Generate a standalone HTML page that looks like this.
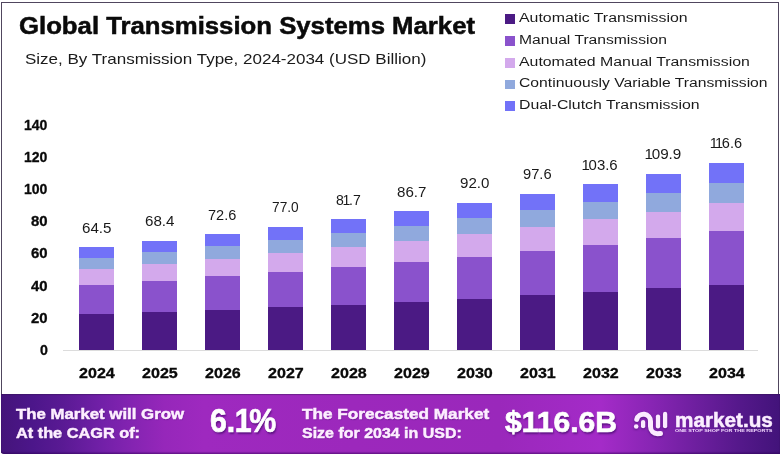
<!DOCTYPE html>
<html><head><meta charset="utf-8"><style>
html,body{margin:0;padding:0;background:#fff;}
body{width:780px;height:457px;position:relative;overflow:hidden;font-family:"Liberation Sans",sans-serif;}
.frame{position:absolute;left:1px;top:2px;width:776px;height:449px;border:1px solid #50465e;}
.t{position:absolute;white-space:nowrap;transform-origin:0 0;}
#txt{position:absolute;left:0;top:0;width:780px;height:457px;will-change:transform;}
.n1{margin:0 -1.3px;}
.n1b{margin:0 -2.6px 0 -0.6px;}
.seg{position:absolute;width:35px;}
.sq{position:absolute;left:505.2px;width:9.5px;height:9.5px;}
.axis{position:absolute;left:63px;top:350px;width:695px;height:1px;background:#dcdcdc;}
.banner{position:absolute;left:1px;top:393.5px;width:779px;height:60px;border-radius:0 0 0 3px;
background:linear-gradient(90deg,#44147a 0%,#4c168a 4%,#5a1a94 8%,#7220a8 13%,#8524b2 17%,#9627ba 21%,#9e29bf 26%,#9c28bc 45%,#9a28bb 64%,#a42bc8 77%,#8825b4 83.5%,#6a1e9c 90%,#54188a 95%,#42137a 100%);
box-shadow:inset 0 -1.5px 1px rgba(40,0,80,.45), inset 0 1px 1px rgba(50,20,80,.45);}
svg.logo{position:absolute;left:625px;top:400px;filter:drop-shadow(0.8px 1px 1px rgba(45,0,85,.55));}
</style></head><body>
<div class="frame"></div>
<div class="sq" style="top:14.4px;background:#4b1a84"></div>
<div class="sq" style="top:36.3px;background:#8a52cc"></div>
<div class="sq" style="top:58.0px;background:#d3a9ec"></div>
<div class="sq" style="top:79.6px;background:#90a9dd"></div>
<div class="sq" style="top:101.3px;background:#7272f8"></div>

<div class="axis"></div>
<div class="seg" style="left:79px;top:313.88px;height:36.42px;background:#4b1a84"></div>
<div class="seg" style="left:79px;top:284.26px;height:29.92px;background:#8a52cc"></div>
<div class="seg" style="left:79px;top:268.58px;height:15.99px;background:#d3a9ec"></div>
<div class="seg" style="left:79px;top:257.43px;height:11.45px;background:#90a9dd"></div>
<div class="seg" style="left:79px;top:246.80px;height:10.93px;background:#7272f8"></div>
<div class="seg" style="left:142px;top:311.70px;height:38.60px;background:#4b1a84"></div>
<div class="seg" style="left:142px;top:280.29px;height:31.71px;background:#8a52cc"></div>
<div class="seg" style="left:142px;top:263.65px;height:16.93px;background:#d3a9ec"></div>
<div class="seg" style="left:142px;top:251.83px;height:12.12px;background:#90a9dd"></div>
<div class="seg" style="left:142px;top:240.56px;height:11.57px;background:#7272f8"></div>
<div class="seg" style="left:205px;top:309.34px;height:40.96px;background:#4b1a84"></div>
<div class="seg" style="left:205px;top:276.01px;height:33.64px;background:#8a52cc"></div>
<div class="seg" style="left:205px;top:258.35px;height:17.96px;background:#d3a9ec"></div>
<div class="seg" style="left:205px;top:245.80px;height:12.85px;background:#90a9dd"></div>
<div class="seg" style="left:205px;top:233.84px;height:12.26px;background:#7272f8"></div>
<div class="seg" style="left:268px;top:306.88px;height:43.42px;background:#4b1a84"></div>
<div class="seg" style="left:268px;top:271.52px;height:35.66px;background:#8a52cc"></div>
<div class="seg" style="left:268px;top:252.80px;height:19.03px;background:#d3a9ec"></div>
<div class="seg" style="left:268px;top:239.49px;height:13.61px;background:#90a9dd"></div>
<div class="seg" style="left:268px;top:226.80px;height:12.99px;background:#7272f8"></div>
<div class="seg" style="left:331px;top:304.25px;height:46.05px;background:#4b1a84"></div>
<div class="seg" style="left:331px;top:266.73px;height:37.82px;background:#8a52cc"></div>
<div class="seg" style="left:331px;top:246.86px;height:20.17px;background:#d3a9ec"></div>
<div class="seg" style="left:331px;top:232.74px;height:14.42px;background:#90a9dd"></div>
<div class="seg" style="left:331px;top:219.28px;height:13.76px;background:#7272f8"></div>
<div class="seg" style="left:394px;top:301.45px;height:48.85px;background:#4b1a84"></div>
<div class="seg" style="left:394px;top:261.64px;height:40.11px;background:#8a52cc"></div>
<div class="seg" style="left:394px;top:240.55px;height:21.39px;background:#d3a9ec"></div>
<div class="seg" style="left:394px;top:225.57px;height:15.28px;background:#90a9dd"></div>
<div class="seg" style="left:394px;top:211.28px;height:14.59px;background:#7272f8"></div>
<div class="seg" style="left:457px;top:298.48px;height:51.82px;background:#4b1a84"></div>
<div class="seg" style="left:457px;top:256.23px;height:42.55px;background:#8a52cc"></div>
<div class="seg" style="left:457px;top:233.86px;height:22.67px;background:#d3a9ec"></div>
<div class="seg" style="left:457px;top:217.96px;height:16.20px;background:#90a9dd"></div>
<div class="seg" style="left:457px;top:202.80px;height:15.46px;background:#7272f8"></div>
<div class="seg" style="left:520px;top:294.34px;height:55.96px;background:#4b1a84"></div>
<div class="seg" style="left:520px;top:250.53px;height:44.12px;background:#8a52cc"></div>
<div class="seg" style="left:520px;top:226.79px;height:24.04px;background:#d3a9ec"></div>
<div class="seg" style="left:520px;top:209.92px;height:17.17px;background:#90a9dd"></div>
<div class="seg" style="left:520px;top:193.84px;height:16.38px;background:#7272f8"></div>
<div class="seg" style="left:583px;top:291.98px;height:58.32px;background:#4b1a84"></div>
<div class="seg" style="left:583px;top:244.41px;height:47.87px;background:#8a52cc"></div>
<div class="seg" style="left:583px;top:219.22px;height:25.50px;background:#d3a9ec"></div>
<div class="seg" style="left:583px;top:201.31px;height:18.20px;background:#90a9dd"></div>
<div class="seg" style="left:583px;top:184.24px;height:17.37px;background:#7272f8"></div>
<div class="seg" style="left:646px;top:287.46px;height:62.84px;background:#4b1a84"></div>
<div class="seg" style="left:646px;top:237.99px;height:49.77px;background:#8a52cc"></div>
<div class="seg" style="left:646px;top:211.26px;height:27.03px;background:#d3a9ec"></div>
<div class="seg" style="left:646px;top:192.27px;height:19.29px;background:#90a9dd"></div>
<div class="seg" style="left:646px;top:174.16px;height:18.41px;background:#7272f8"></div>
<div class="seg" style="left:709px;top:284.53px;height:65.77px;background:#4b1a84"></div>
<div class="seg" style="left:709px;top:230.84px;height:53.99px;background:#8a52cc"></div>
<div class="seg" style="left:709px;top:202.41px;height:28.73px;background:#d3a9ec"></div>
<div class="seg" style="left:709px;top:182.21px;height:20.50px;background:#90a9dd"></div>
<div class="seg" style="left:709px;top:162.94px;height:19.57px;background:#7272f8"></div>

<div class="banner"></div>
<svg class="logo" width="60" height="45" viewBox="625 400 60 45" fill="none" stroke="#fbeaff" stroke-width="4.3" stroke-linecap="round" stroke-linejoin="round">
<path stroke-width="5" d="M636.75 419.4 A7 7 0 0 1 650.5 421.3 L650.5 426.6 C650.5 431 653.8 433.7 657.4 433.7 L660.5 433.5"/>
<path d="M643.1 422.1 L643.1 426.2"/>
<path d="M658 416.6 L658 426.4"/>
<path d="M665.1 414 L665.1 426.2"/>
<circle cx="636.2" cy="426.5" r="2.3" fill="#fbeaff" stroke="none"/>
</svg>
<div id="txt">
<div class="t" id="title" style="left:19px;top:10.96px;font-size:23.5px;line-height:31px;font-weight:bold;color:#0a0a0a;transform:scaleX(1.0945);-webkit-text-stroke:0.5px #0a0a0a;">Global Transmission Systems Market</div>
<div class="t" id="sub" style="left:25px;top:48.80px;font-size:15px;line-height:20px;color:#1a1a1a;transform:scaleX(1.1337);">Size, By Transmission Type, 2024-2034 (USD Billion)</div>
<div class="t" id="l0" style="left:519.4px;top:9.05px;font-size:13.7px;line-height:18px;color:#1a1a1a;transform:scaleX(1.1604);">Automatic Transmission</div>
<div class="t" id="l1" style="left:519.4px;top:30.95px;font-size:13.7px;line-height:18px;color:#1a1a1a;transform:scaleX(1.1436);">Manual Transmission</div>
<div class="t" id="l2" style="left:519.4px;top:52.65px;font-size:13.7px;line-height:18px;color:#1a1a1a;transform:scaleX(1.1579);">Automated Manual Transmission</div>
<div class="t" id="l3" style="left:519.4px;top:74.25px;font-size:13.7px;line-height:18px;color:#1a1a1a;transform:scaleX(1.1479);">Continuously Variable Transmission</div>
<div class="t" id="l4" style="left:519.4px;top:95.95px;font-size:13.7px;line-height:18px;color:#1a1a1a;transform:scaleX(1.1582);">Dual-Clutch Transmission</div>
<div class="t" id="b1a" style="left:16px;top:404.33px;font-size:15.5px;line-height:20px;font-weight:bold;color:#fdeeff;transform:scaleX(1.0837);-webkit-text-stroke:0.5px #fdeeff;text-shadow:0.5px 1px 1px rgba(45,0,85,.4);">The Market will Grow</div>
<div class="t" id="b1b" style="left:16px;top:423.43px;font-size:15.5px;line-height:20px;font-weight:bold;color:#fdeeff;transform:scaleX(1.0513);-webkit-text-stroke:0.5px #fdeeff;text-shadow:0.5px 1px 1px rgba(45,0,85,.4);">At the CAGR of:</div>
<div class="t" id="b2" style="left:209.8px;top:399.37px;font-size:33px;line-height:43px;font-weight:bold;color:#fff;transform:scaleX(0.9188);-webkit-text-stroke:0.7px #fff;text-shadow:1px 1.5px 2px rgba(40,0,80,.55);">6.<span class="n1b">1</span>%</div>
<div class="t" id="b3a" style="left:302px;top:404.33px;font-size:15.5px;line-height:20px;font-weight:bold;color:#fdeeff;transform:scaleX(1.1087);-webkit-text-stroke:0.5px #fdeeff;text-shadow:0.5px 1px 1px rgba(45,0,85,.4);">The Forecasted Market</div>
<div class="t" id="b3b" style="left:302px;top:423.43px;font-size:15.5px;line-height:20px;font-weight:bold;color:#fdeeff;transform:scaleX(1.0307);-webkit-text-stroke:0.5px #fdeeff;text-shadow:0.5px 1px 1px rgba(45,0,85,.4);">Size for 2034 in USD:</div>
<div class="t" id="b4" style="left:505.4px;top:403.45px;font-size:29px;line-height:38px;font-weight:bold;color:#fff;transform:scaleX(1.0357);-webkit-text-stroke:0.7px #fff;text-shadow:1px 1.5px 2px rgba(40,0,80,.55);">$116.6B</div>
<div class="t" id="b5" style="left:675px;top:407.17px;font-size:20px;line-height:26px;font-weight:bold;color:#fbeeff;transform:scaleX(1.0349);-webkit-text-stroke:0.5px #fbeeff;">market.us</div>
<div class="t" id="b6" style="left:675.4px;top:427.51px;font-size:4.3px;line-height:6px;font-weight:bold;color:#f3d8ff;transform:scaleX(1.2591);">ONE STOP SHOP FOR THE REPORTS</div>
<div class="t" id="v0" style="left:81.75px;top:218.85px;font-size:14px;line-height:18px;color:#1a1a1a;transform:scaleX(1.0826);">64.5</div>
<div class="t" id="y0" style="left:78.6px;top:363.30px;font-size:15px;line-height:20px;font-weight:bold;color:#0a0a0a;transform:scaleX(1.0727);-webkit-text-stroke:0.3px #0a0a0a;">2024</div>
<div class="t" id="v1" style="left:144.75px;top:212.21px;font-size:14px;line-height:18px;color:#1a1a1a;transform:scaleX(1.0826);">68.4</div>
<div class="t" id="y1" style="left:141.6px;top:363.30px;font-size:15px;line-height:20px;font-weight:bold;color:#0a0a0a;transform:scaleX(1.0727);-webkit-text-stroke:0.3px #0a0a0a;">2025</div>
<div class="t" id="v2" style="left:208.35px;top:205.69px;font-size:14px;line-height:18px;color:#1a1a1a;transform:scaleX(1.0385);">72.6</div>
<div class="t" id="y2" style="left:204.6px;top:363.30px;font-size:15px;line-height:20px;font-weight:bold;color:#0a0a0a;transform:scaleX(1.0727);-webkit-text-stroke:0.3px #0a0a0a;">2026</div>
<div class="t" id="v3" style="left:272.15px;top:197.95px;font-size:14px;line-height:18px;color:#1a1a1a;transform:scaleX(0.9798);">77.0</div>
<div class="t" id="y3" style="left:267.6px;top:363.30px;font-size:15px;line-height:20px;font-weight:bold;color:#0a0a0a;transform:scaleX(1.0727);-webkit-text-stroke:0.3px #0a0a0a;">2027</div>
<div class="t" id="v4" style="left:336.1px;top:190.73px;font-size:14px;line-height:18px;color:#1a1a1a;transform:scaleX(1.0046);">8<span class="n1">1</span>.7</div>
<div class="t" id="y4" style="left:330.6px;top:363.30px;font-size:15px;line-height:20px;font-weight:bold;color:#0a0a0a;transform:scaleX(1.0727);-webkit-text-stroke:0.3px #0a0a0a;">2028</div>
<div class="t" id="v5" style="left:396.8px;top:183.03px;font-size:14px;line-height:18px;color:#1a1a1a;transform:scaleX(1.0789);">86.7</div>
<div class="t" id="y5" style="left:393.6px;top:363.30px;font-size:15px;line-height:20px;font-weight:bold;color:#0a0a0a;transform:scaleX(1.0727);-webkit-text-stroke:0.3px #0a0a0a;">2029</div>
<div class="t" id="v6" style="left:459.8px;top:173.85px;font-size:14px;line-height:18px;color:#1a1a1a;transform:scaleX(1.0789);">92.0</div>
<div class="t" id="y6" style="left:456.6px;top:363.30px;font-size:15px;line-height:20px;font-weight:bold;color:#0a0a0a;transform:scaleX(1.0727);-webkit-text-stroke:0.3px #0a0a0a;">2030</div>
<div class="t" id="v7" style="left:523.2px;top:164.69px;font-size:14px;line-height:18px;color:#1a1a1a;transform:scaleX(1.0495);">97.6</div>
<div class="t" id="y7" style="left:519.6px;top:363.30px;font-size:15px;line-height:20px;font-weight:bold;color:#0a0a0a;transform:scaleX(1.0727);-webkit-text-stroke:0.3px #0a0a0a;">2031</div>
<div class="t" id="v8" style="left:583.15px;top:155.89px;font-size:14px;line-height:18px;color:#1a1a1a;transform:scaleX(1.0692);"><span class="n1">1</span>03.6</div>
<div class="t" id="y8" style="left:582.6px;top:363.30px;font-size:15px;line-height:20px;font-weight:bold;color:#0a0a0a;transform:scaleX(1.0727);-webkit-text-stroke:0.3px #0a0a0a;">2032</div>
<div class="t" id="v9" style="left:645.85px;top:144.91px;font-size:14px;line-height:18px;color:#1a1a1a;transform:scaleX(1.0877);"><span class="n1">1</span>09.9</div>
<div class="t" id="y9" style="left:645.6px;top:363.30px;font-size:15px;line-height:20px;font-weight:bold;color:#0a0a0a;transform:scaleX(1.0727);-webkit-text-stroke:0.3px #0a0a0a;">2033</div>
<div class="t" id="v10" style="left:711.0px;top:134.39px;font-size:14px;line-height:18px;color:#1a1a1a;transform:scaleX(1.0377);"><span class="n1">1</span><span class="n1">1</span>6.6</div>
<div class="t" id="y10" style="left:708.6px;top:363.30px;font-size:15px;line-height:20px;font-weight:bold;color:#0a0a0a;transform:scaleX(1.0727);-webkit-text-stroke:0.3px #0a0a0a;">2034</div>
<div class="t" id="a0" style="left:39.6px;top:340.90px;font-size:14px;line-height:18px;font-weight:bold;color:#0a0a0a;transform:scaleX(1.0132);-webkit-text-stroke:0.3px #0a0a0a;">0</div>
<div class="t" id="a20" style="left:30.9px;top:308.76px;font-size:14px;line-height:18px;font-weight:bold;color:#0a0a0a;transform:scaleX(1.0656);-webkit-text-stroke:0.3px #0a0a0a;">20</div>
<div class="t" id="a40" style="left:30.9px;top:276.62px;font-size:14px;line-height:18px;font-weight:bold;color:#0a0a0a;transform:scaleX(1.0656);-webkit-text-stroke:0.3px #0a0a0a;">40</div>
<div class="t" id="a60" style="left:30.9px;top:244.48px;font-size:14px;line-height:18px;font-weight:bold;color:#0a0a0a;transform:scaleX(1.0656);-webkit-text-stroke:0.3px #0a0a0a;">60</div>
<div class="t" id="a80" style="left:30.9px;top:212.34px;font-size:14px;line-height:18px;font-weight:bold;color:#0a0a0a;transform:scaleX(1.0656);-webkit-text-stroke:0.3px #0a0a0a;">80</div>
<div class="t" id="a100" style="left:24.1px;top:180.20px;font-size:14px;line-height:18px;font-weight:bold;color:#0a0a0a;transform:scaleX(1.0017);-webkit-text-stroke:0.3px #0a0a0a;">100</div>
<div class="t" id="a120" style="left:24.1px;top:148.06px;font-size:14px;line-height:18px;font-weight:bold;color:#0a0a0a;transform:scaleX(1.0017);-webkit-text-stroke:0.3px #0a0a0a;">120</div>
<div class="t" id="a140" style="left:24.1px;top:115.92px;font-size:14px;line-height:18px;font-weight:bold;color:#0a0a0a;transform:scaleX(1.0017);-webkit-text-stroke:0.3px #0a0a0a;">140</div>
</div>
</body></html>
